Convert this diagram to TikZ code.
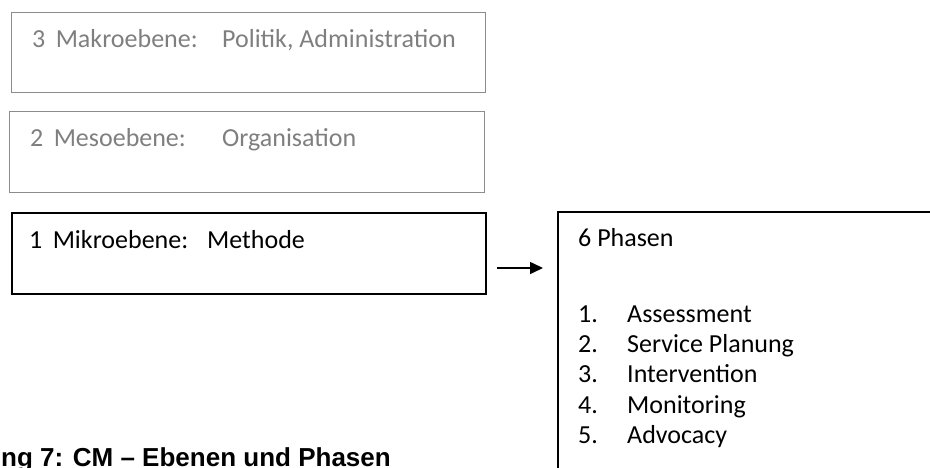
\documentclass[tikz,border=0pt]{standalone}
\usepackage{fontspec}
\setmainfont{Carlito}
\newfontfamily\capfont{Liberation Sans}
\usetikzlibrary{arrows.meta}
\definecolor{lightframe}{HTML}{8C8C8C}
\definecolor{lighttext}{HTML}{7F7F7F}
\tikzset{
  graybox/.style={draw=lightframe, line width=1.3pt},
  blackbox/.style={draw=black, line width=1.6pt},
  lbl/.style={anchor=base west, inner sep=0pt, font=\fontsize{26}{31}\selectfont},
  graylbl/.style={lbl, text=lighttext},
  caption/.style={anchor=base west, inner sep=0pt, font=\capfont\bfseries\fontsize{26}{30}\selectfont}
}
\begin{document}
\begin{tikzpicture}[x=1pt,y=-1pt]
\useasboundingbox (0,0) rectangle (930,468);
\clip (0,0) rectangle (930,468);
% boxes
\node[graybox, minimum width=474pt, minimum height=80pt, inner sep=0pt, anchor=north west] (makro) at (11,12) {};
\node[graybox, minimum width=475pt, minimum height=81pt, inner sep=0pt, anchor=north west] (meso) at (9,111) {};
\node[blackbox, minimum width=474pt, minimum height=81pt, inner sep=0pt, anchor=north west] (mikro) at (11,212) {};
\node[blackbox, minimum width=420pt, minimum height=300pt, inner sep=0pt, anchor=north west] (phasen) at (557,211) {};
% texts
\node[graylbl] (t3a) at (32,48) {3\hspace{0.4em}Makroebene:};
\node[graylbl] (t3b) at (222,48) {Politik, Administration};
\node[graylbl] (t2a) at (30,147) {2\hspace{0.4em}Mesoebene:};
\node[graylbl] (t2b) at (222,147) {Organisation};
\node[lbl] (t1a) at (29,248) {1\hspace{0.4em}Mikroebene:};
\node[lbl] (t1b) at (207,248) {Methode};
\node[lbl] (p0) at (578,247) {6 Phasen};
\foreach \n/\t [count=\i from 0] in {1/Assessment,2/Service Planung,3/Intervention,4/Monitoring,5/Advocacy}{
  \node[lbl] (pn\n) at (578,322+30.4*\i) {\n.};
  \node[lbl] (pt\n) at (627,322+30.4*\i) {\t};
}
% arrow
\coordinate (as) at (497,268);
\coordinate (ae) at (543,268);
\draw[line width=1.6pt, -{Triangle[length=13pt,width=12pt]}] (as) -- (ae);
% caption (cut off at the left edge)
\node[caption] (cap) at (1,466) {ng 7: CM – Ebenen und Phasen};
\end{tikzpicture}
\end{document}
